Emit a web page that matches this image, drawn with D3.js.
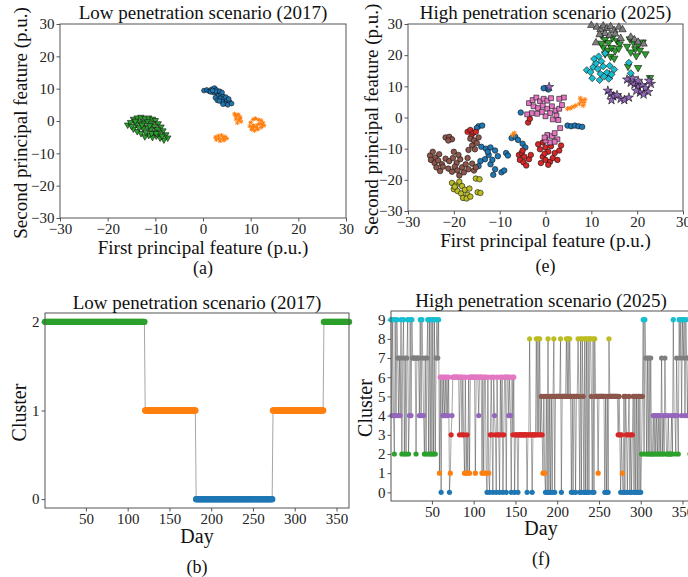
<!DOCTYPE html>
<html lang="en">
<head>
<meta charset="UTF-8">
<title>Cluster features and daily clusters</title>
<script src="https://d3js.org/d3.v7.min.js"></script>
<style>
  body { margin: 0; background: #fff; }
  svg { display: block; font-family: "Liberation Serif", "DejaVu Serif", serif; }
  .axis path, .axis line { stroke: #555; }
  .axis text { font-size: 15px; fill: #222; font-family: "Liberation Serif", "DejaVu Serif", serif; }
</style>
</head>
<body>
<svg id="chart" width="688" height="577"></svg>
<script>
// tab10 colours, one per cluster, and the marker used for each cluster
const clusterColors = ["#1f77b4", "#ff7f0e", "#2ca02c", "#d62728", "#9467bd",
                       "#8c564b", "#e377c2", "#7f7f7f", "#bcbd22", "#17becf"];
const clusterMarkers = ["circle", "x", "triDown", "circle", "star",
                        "circle", "square", "triUp", "circle", "diamond"];

const featureTicks = [-30, -20, -10, 0, 10, 20, 30];
const dayTicks = [50, 100, 150, 200, 250, 300, 350];

// (a) low penetration, first/second principal feature per cluster
const lowCluster0 = [[0.2,9.4],[0.8,9.6],[1.3,9.2],[1.8,9.8],[2.4,10.2],[2.8,9.6],[2.2,8.8],[3.0,8.6],[3.5,9.2],[3.2,7.8],
  [3.8,8.2],[4.2,7.6],[3.6,7.0],[4.4,6.8],[4.8,7.4],[5.0,6.2],[5.6,5.8],[4.6,5.4],[5.2,5.0],[6.0,5.4],
  [2.6,7.2],[3.0,6.4],[4.0,6.0],[1.6,9.0],[2.6,9.2],[4.0,8.8],[3.4,6.2],[5.4,6.8],[4.2,5.2],[2.0,9.4]];
const lowCluster1 = [[6.6,2.2],[7.0,1.5],[7.4,2.0],[7.8,1.2],[6.9,0.6],[7.5,0.3],[8.0,-0.2],[7.2,-0.6],[7.8,0.8],[6.8,1.8],
  [10.0,-0.5],[10.5,0.5],[11.0,0.8],[11.6,0.4],[12.2,0.2],[12.6,-0.6],[12.8,-1.4],[12.2,-2.0],[11.5,-2.6],[10.8,-3.0],
  [10.2,-2.6],[9.8,-1.6],[10.6,-1.4],[11.4,-1.2],[11.9,-0.8],[11.2,-2.0],[10.4,-2.0],[12.4,-1.2],
  [2.6,-5.0],[3.2,-4.6],[3.9,-4.4],[4.6,-4.8],[5.0,-5.4],[4.4,-6.0],[3.6,-6.2],[2.8,-5.8],[3.4,-5.4],[4.2,-5.3]];
const lowCluster2 = [[-15.8,-1.2],[-15.2,-0.4],[-14.6,0.6],[-13.8,1.0],[-13.0,1.2],[-12.2,0.8],[-11.4,1.0],[-10.6,0.6],
  [-10.0,0.2],[-9.4,-0.8],[-8.8,-1.8],[-8.4,-3.0],[-7.8,-4.2],[-7.4,-5.2],[-8.2,-5.8],[-9.0,-5.2],[-9.8,-4.6],
  [-10.6,-5.0],[-11.4,-4.4],[-12.2,-4.8],[-13.0,-3.8],[-13.8,-3.2],[-14.6,-2.4],[-15.0,-1.6],[-14.0,-1.0],
  [-13.2,-0.2],[-12.4,-0.6],[-11.6,-0.2],[-10.8,-0.8],[-10.2,-1.6],[-9.6,-2.6],[-9.2,-3.6],[-10.2,-3.4],
  [-11.0,-2.6],[-11.8,-2.0],[-12.6,-2.2],[-13.4,-2.0],[-12.0,-3.4],[-10.8,-3.8],[-8.6,-4.6],[-14.2,0.0],
  [-12.8,-1.2],[-11.2,-1.4],[-9.8,-3.8]];

// (e) high penetration
const highCluster0 = [[-14.6,-2.8],[-13.8,-2.6],[-15.0,-3.4],[-14.0,-9.4],[-13.0,-10.0],[-12.0,-9.6],[-11.0,-10.6],
  [-10.4,-12.4],[-12.4,-12.0],[-13.2,-13.4],[-14.2,-14.0],[-12.0,-15.0],[-11.0,-16.6],[-11.4,-18.4],[-9.6,-17.6],
  [-9.0,-17.0],[-8.6,-11.4],[-8.2,-12.2],[-14.6,-15.6],[-12.6,-11.0],[-11.6,-13.6],[-7.4,-6.6],[-6.6,-6.2],
  [-5.0,-8.4],[-4.4,-9.6],[-5.4,1.6],[-0.4,9.4],[0.6,9.0],[4.8,-2.6],[5.6,-2.8],[6.4,-2.6],[7.2,-2.8],[8.0,-3.0],[-6.0,-7.2]];
const highCluster1 = [[-7.2,-5.6],[-6.8,-5.0],[5.4,3.0],[6.0,3.4],[6.6,3.8],[7.4,4.4],[7.8,5.4],[8.4,4.8],[8.6,5.8],
  [7.6,6.2],[8.2,3.8],[4.8,2.8]];
const highCluster2 = [[12.2,26.4],[13.0,25.0],[13.8,24.0],[14.6,25.6],[15.6,24.6],[16.2,23.6],[12.6,22.6],[13.6,21.6],
  [14.4,22.4],[15.2,21.4],[16.0,22.2],[13.0,20.4],[14.2,19.6],[12.2,23.8],[18.4,25.2],[19.2,24.0],[20.2,23.2],
  [21.2,24.2],[19.6,22.0],[18.6,21.0],[20.6,21.6],[21.8,20.4],[19.8,19.8],[18.0,16.4],[20.2,16.0],[22.8,12.8],
  [15.0,19.0],[17.8,22.8]];
const highCluster3 = [[-17.0,-4.6],[-16.4,-4.0],[-15.8,-5.0],[-15.2,-4.6],[-16.2,-6.2],[-3.8,-1.6],[-3.4,-0.4],
  [-5.8,-12.0],[-5.2,-11.4],[-4.6,-12.6],[-5.6,-13.6],[-4.8,-14.4],[-3.6,-13.4],[-3.2,-12.0],[-4.2,-15.4],
  [-5.0,-10.6],[-0.6,-8.0],[0.0,-9.6],[-1.2,-10.2],[0.6,-11.0],[-0.6,-12.6],[0.0,-13.6],[1.0,-14.2],[1.6,-13.0],
  [2.6,-13.6],[0.6,-15.2],[3.0,-10.6],[3.4,-9.0],[-1.6,-8.6],[1.2,-9.2],[2.0,-11.4],[-0.2,-11.6],[-1.0,-14.6]];
const highCluster4 = [[0.8,9.8],[13.6,8.6],[14.2,7.6],[14.8,6.8],[15.6,7.2],[14.4,5.6],[16.4,6.0],[17.2,5.6],[18.2,6.4],
  [17.8,12.2],[18.6,11.2],[19.4,10.6],[20.2,9.8],[21.0,10.4],[21.8,9.4],[22.4,8.2],[20.6,8.0],[21.4,7.4],[19.8,8.6],
  [23.0,10.8],[19.0,12.6],[14.0,13.6],[22.6,11.8],[20.2,11.8]];
const highCluster5 = [[-25.2,-12.2],[-24.6,-11.0],[-24.0,-12.8],[-25.0,-13.6],[-24.2,-14.6],[-23.4,-13.8],[-23.8,-16.0],
  [-23.0,-17.2],[-23.2,-11.8],[-22.6,-15.0],[-21.8,-6.4],[-21.0,-6.2],[-20.4,-7.0],[-21.2,-7.4],[-21.8,-13.2],
  [-21.0,-14.0],[-20.2,-13.0],[-19.4,-14.6],[-18.6,-13.4],[-19.8,-15.8],[-21.2,-16.4],[-20.4,-17.4],[-19.2,-17.0],
  [-18.2,-16.0],[-17.4,-15.0],[-17.8,-17.6],[-16.8,-16.6],[-18.8,-18.6],[-20.0,-11.0],[-19.0,-12.0],[-22.4,-15.8],
  [-17.0,-13.0],[-16.0,-14.8],[-15.6,-17.0],[-15.2,-16.0],[-16.4,-6.8],[-15.6,-7.4],[-15.0,-8.2],[-16.0,-9.0],
  [-15.4,-10.2],[-14.6,-6.4],[-16.8,-10.4]];
const highCluster6 = [[-3.6,4.6],[-2.8,5.6],[-2.0,6.4],[-1.2,5.2],[-0.4,6.0],[0.4,5.4],[1.2,6.2],[-2.6,3.6],[-1.6,3.0],
  [-0.6,3.8],[0.4,2.8],[1.4,3.6],[2.2,2.2],[3.0,2.8],[3.6,4.0],[4.0,6.4],[3.0,6.0],[1.0,1.4],[0.0,0.4],[1.6,-0.6],
  [2.4,0.6],[-0.8,1.8],[-1.8,1.2],[-3.0,1.4],[-4.0,1.0],[2.8,-0.8],[3.2,-3.4],[0.4,-5.6],[1.4,-6.0],[2.0,-5.0],
  [2.6,-7.0],[1.0,-8.0],[0.0,-7.4],[2.0,-7.8],[-0.2,-6.4]];
const highCluster7 = [[10.0,29.6],[11.2,29.0],[12.0,28.2],[12.6,29.4],[13.4,28.6],[14.2,29.2],[15.0,28.0],[16.0,29.0],
  [16.8,28.2],[13.0,27.0],[14.0,26.4],[15.2,26.8],[11.8,26.6],[11.0,24.0],[18.6,25.8],[19.4,25.0],[20.2,24.2],
  [21.4,23.6],[16.4,25.4]];
const highCluster8 = [[-20.4,-21.0],[-19.6,-21.8],[-18.8,-20.6],[-18.2,-22.0],[-20.0,-23.0],[-19.2,-23.6],[-18.4,-24.4],
  [-17.6,-23.2],[-17.0,-24.8],[-18.0,-25.8],[-17.2,-26.0],[-16.4,-25.4],[-16.6,-22.8],[-15.2,-19.6],[-14.4,-19.8],
  [-14.8,-24.0],[-14.2,-24.2],[-19.8,-22.2]];
const highCluster9 = [[9.0,15.2],[9.8,14.6],[10.4,16.2],[11.0,17.4],[10.6,18.8],[11.6,19.6],[12.2,18.0],[11.4,15.6],
  [12.0,14.0],[12.8,13.2],[13.4,14.4],[13.8,12.4],[14.4,13.8],[12.6,16.4],[13.0,20.6],[10.2,12.6],[11.8,12.0],
  [15.0,15.4],[18.2,17.6],[18.6,14.2],[14.0,16.6]];

// (b) low penetration: cluster per day, as runs (last day of each run)
const lowRunClusters = [2, 1, 0, 1, 2];
const lowRunLastDay = [120, 181, 273, 334, 365];

// (f) high penetration: cluster of each day 1..365, one digit per day
const highDaily =
  "9494294974" + "7492792727" + "9249497777" + "2777494974" + "2727929292" + "9292797916" +
  "0646464646" + "0134666666" + "6636636316" + "1316166666" + "6166646661" + "6166106103" +
  "6306430633" + "0636036606" + "6464063603" + "3303333333" + "3330338330" + "3333838383" +
  "5315105080" + "5050580555" + "5558055555" + "8585850505" + "5055850808" + "5080808088" +
  "5080855515" + "5555550505" + "0855555555" + "5535303105" + "0530350303" + "5050505050" +
  "2592972727" + "2722424242" + "4242724274" + "2242224294" + "4274297949" + "7949747927" + "47297";

const svg = d3.select("#chart");

function markerPath(kind, size) {
  if (kind === "x") {
    const a = Math.sqrt(size) / 2;
    return `M${-a},${-a}L${a},${a}M${-a},${a}L${a},${-a}M${-a * 1.3},0L${a * 1.3},0M0,${-a * 1.3}L0,${a * 1.3}`;
  }
  const types = { circle: d3.symbolCircle, triDown: d3.symbolTriangle, triUp: d3.symbolTriangle,
                  star: d3.symbolStar, square: d3.symbolSquare, diamond: d3.symbolSquare };
  return d3.symbol().type(types[kind]).size(size)();
}
function markerRotate(kind) {
  return kind === "triDown" ? 180 : kind === "diamond" ? 45 : 0;
}

function frame(g, box) {
  g.append("rect")
    .attr("x", box.left).attr("y", box.top)
    .attr("width", box.right - box.left).attr("height", box.bottom - box.top)
    .attr("fill", "none").attr("stroke", "#555").attr("stroke-width", 1);
}

function text(g, x, y, str, size, rotate) {
  const t = g.append("text")
    .attr("text-anchor", "middle")
    .attr("font-size", size)
    .attr("fill", "#111")
    .text(str);
  if (rotate) t.attr("transform", `translate(${x},${y}) rotate(-90)`);
  else t.attr("x", x).attr("y", y);
  return t;
}

function scatterPanel(cfg) {
  const g = svg.append("g");
  const b = cfg.box;
  const x = d3.scaleLinear().domain([-30, 30]).range([b.left, b.right]);
  const y = d3.scaleLinear().domain([-30, 30]).range([b.bottom, b.top]);

  g.append("g").attr("class", "axis").attr("transform", `translate(0,${b.bottom})`)
    .call(d3.axisBottom(x).tickValues(featureTicks).tickSize(3.5).tickSizeOuter(0).tickPadding(1.5));
  g.append("g").attr("class", "axis").attr("transform", `translate(${b.left},0)`)
    .call(d3.axisLeft(y).tickValues(featureTicks).tickSize(3.5).tickSizeOuter(0).tickPadding(2));
  g.selectAll(".axis .domain").remove();

  cfg.sets.forEach(set => {
    const kind = clusterMarkers[set.cluster];
    const color = clusterColors[set.cluster];
    const size = kind === "x" ? cfg.size * 0.6 : kind === "star" ? cfg.size * 1.1 : cfg.size;
    g.append("g").selectAll("path")
      .data(set.points)
      .join("path")
      .attr("transform", d => `translate(${x(d[0])},${y(d[1])}) rotate(${markerRotate(kind)})`)
      .attr("d", markerPath(kind, size))
      .attr("fill", kind === "x" ? "none" : color)
      .attr("stroke", kind === "x" ? color : "#111")
      .attr("stroke-width", kind === "x" ? 1 : 0.6);
  });

  frame(g, b);
  text(g, (b.left + b.right) / 2, cfg.titleY, cfg.title, 19);
  text(g, (b.left + b.right) / 2, cfg.xLabelY, "First principal feature (p.u.)", 19);
  text(g, cfg.yLabelX, (b.top + b.bottom) / 2 + 2, "Second principal feature (p.u.)", 19, true);
  text(g, (b.left + b.right) / 2, cfg.tagY, cfg.tag, 18);
}

function timelinePanel(cfg) {
  const g = svg.append("g");
  const b = cfg.box;
  const x = d3.scaleLinear().domain([1, 365]).range([b.left, b.right]);
  const y = d3.scaleLinear().domain(cfg.yDomain).range([b.bottom, b.top]);

  g.append("g").attr("class", "axis").attr("transform", `translate(0,${b.bottom})`)
    .call(d3.axisBottom(x).tickValues(dayTicks).tickSize(3.5).tickSizeOuter(0).tickPadding(2));
  g.append("g").attr("class", "axis").attr("transform", `translate(${b.left},0)`)
    .call(d3.axisLeft(y).tickValues(cfg.yTicks).tickFormat(d3.format("d")).tickSize(3.5).tickSizeOuter(0).tickPadding(2));
  g.selectAll(".axis .domain").remove();

  g.append("path")
    .datum(cfg.days)
    .attr("d", d3.line().x(d => x(d.day)).y(d => y(d.cluster)))
    .attr("fill", "none")
    .attr("stroke", "#333")
    .attr("stroke-opacity", 0.55)
    .attr("stroke-width", 0.8);

  g.append("g").selectAll("circle")
    .data(cfg.days)
    .join("circle")
    .attr("cx", d => x(d.day))
    .attr("cy", d => y(d.cluster))
    .attr("r", cfg.r)
    .attr("fill", d => clusterColors[d.cluster]);

  frame(g, b);
  text(g, cfg.titleX, cfg.titleY, cfg.title, 19);
  text(g, cfg.titleX, cfg.xLabelY, "Day", 20);
  text(g, cfg.yLabelX, (b.top + b.bottom) / 2 + 2, "Cluster", 20, true);
  text(g, cfg.titleX, cfg.tagY, cfg.tag, 18);
}

// expand the run table of (b) to one point per day
const lowDays = [];
let startDay = 1;
lowRunLastDay.forEach((last, i) => {
  for (let d = startDay; d <= last; d++) lowDays.push({ day: d, cluster: lowRunClusters[i] });
  startDay = last + 1;
});
const highDays = highDaily.split("").map((c, i) => ({ day: i + 1, cluster: +c }));

scatterPanel({
  box: { left: 60, right: 346, top: 24, bottom: 218 },
  title: "Low penetration scenario (2017)", titleY: 19,
  xLabelY: 254, yLabelX: 27, tag: "(a)", tagY: 274, size: 18,
  sets: [
    { cluster: 0, points: lowCluster0 },
    { cluster: 1, points: lowCluster1 },
    { cluster: 2, points: lowCluster2 }
  ]
});

scatterPanel({
  box: { left: 408, right: 683, top: 24, bottom: 211 },
  title: "High penetration scenario (2025)", titleY: 19,
  xLabelY: 247, yLabelX: 378, tag: "(e)", tagY: 272, size: 24,
  sets: [highCluster0, highCluster1, highCluster2, highCluster3, highCluster4,
         highCluster5, highCluster6, highCluster7, highCluster8, highCluster9]
    .map((points, i) => ({ cluster: i, points }))
});

timelinePanel({
  box: { left: 45, right: 349, top: 313, bottom: 508 },
  title: "Low penetration scenario (2017)", titleX: 197, titleY: 309,
  xLabelY: 543, yLabelX: 26, tag: "(b)", tagY: 573,
  yDomain: [-0.1, 2.1], yTicks: [0, 1, 2], days: lowDays, r: 3.2
});

timelinePanel({
  box: { left: 391, right: 695, top: 311, bottom: 501 },
  title: "High penetration scenario (2025)", titleX: 541, titleY: 307,
  xLabelY: 535, yLabelX: 372, tag: "(f)", tagY: 565,
  yDomain: [-0.45, 9.45], yTicks: d3.range(0, 10), days: highDays, r: 2.6
});
</script>
</body>
</html>
